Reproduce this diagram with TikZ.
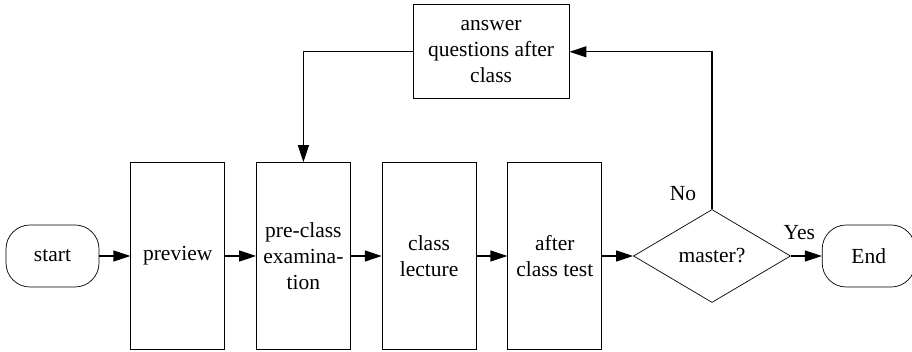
\documentclass[tikz,border=0pt]{standalone}
\usepackage{fontspec}
\setmainfont{Liberation Serif}
\newfontfamily\diagfont{Liberation Serif}
\usetikzlibrary{arrows.meta,positioning,shapes.geometric}

\begin{document}
\begin{tikzpicture}[
    x=1pt, y=1pt,
    node distance=31pt,
    term/.style={draw, rounded corners=24pt, minimum width=93pt, minimum height=62pt, align=center, font=\diagfont\fontsize{21.5}{26}\selectfont, line width=0.7pt},
    proc/.style={draw, minimum width=94pt, minimum height=187pt, inner sep=2pt, align=center, font=\diagfont\fontsize{21.5}{26}\selectfont, line width=0.7pt},
    decide/.style={draw, diamond, aspect=1.7, minimum width=157pt, minimum height=93pt, inner sep=0pt, font=\diagfont\fontsize{21.5}{26}\selectfont, line width=0.7pt},
    flow/.style={-{Triangle[length=17pt,width=11pt]}, line width=1.3pt},
    lbl/.style={font=\diagfont\fontsize{21.5}{26}\selectfont}
]
\useasboundingbox (0,0) rectangle (912,352);

\node[term] (start) at (52.5,96) {start};
\node[proc, right=31pt of start] (preview) {preview};
\node[proc, right=31pt of preview] (pre) {pre-class\\examina-\\tion};
\node[proc, right=31pt of pre] (lecture) {class\\lecture};
\node[proc, right=31pt of lecture] (test) {after\\class test};
\node[decide, right=31pt of test] (master) {master?};
\node[term, right=31pt of master] (end) {End};

\node[proc, minimum width=156pt, minimum height=94pt, above=63pt of lecture, xshift=62pt] (answer) {answer\\questions after\\class};

\draw[flow] (start) -- (preview);
\draw[flow] (preview) -- (pre);
\draw[flow] (pre) -- (lecture);
\draw[flow] (lecture) -- (test);
\draw[flow] (test) -- (master);
\draw[flow] (master) -- node[lbl, above=12pt, xshift=-7pt] {Yes} (end);

\draw[flow] (master.north) |- node[lbl, pos=0.05, left=12pt] {No} (answer.east);
\draw[flow] (answer.west) -| (pre.north);
\end{tikzpicture}
\end{document}
